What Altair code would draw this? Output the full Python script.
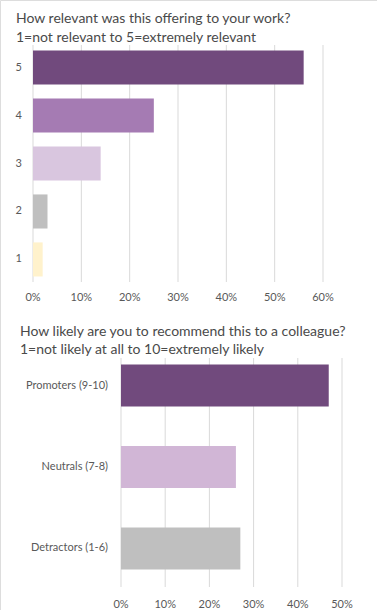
import altair as alt
import pandas as pd

rel_title = ["How relevant was this offering to your work?", "1=not relevant to 5=extremely relevant"]
rel_labels = ["5", "4", "3", "2", "1"]
rel_values = [0.56, 0.25, 0.14, 0.03, 0.02]
rel_colors = ["#714a7d", "#a57bb3", "#d9c6df", "#bfbfbf", "#fff2cc"]
rel_ticks = [0, 0.1, 0.2, 0.3, 0.4, 0.5, 0.6]

nps_title = ["How likely are you to recommend this to a colleague?", "1=not likely at all to 10=extremely likely"]
nps_labels = ["Promoters (9-10)", "Neutrals (7-8)", "Detractors (1-6)"]
nps_values = [0.47, 0.26, 0.27]
nps_colors = ["#714a7d", "#d1b6d6", "#bfbfbf"]
nps_ticks = [0, 0.1, 0.2, 0.3, 0.4, 0.5]

FONT = "Lato"
TXT = "#595959"
TITLE = "#4a4a4a"
GRID = "#d9d9d9"


def panel(labels, values, colors, ticks, dmax, xr, yr, pin, pout, grid_y, tick_y, label_x):
    df = pd.DataFrame({"label": labels, "value": values})
    dt = pd.DataFrame({"t": ticks})
    xs = alt.Scale(domain=[0, dmax], range=xr, nice=False, zero=True)
    ys = alt.Scale(domain=labels, range=yr, paddingInner=pin, paddingOuter=pout)
    grid = alt.Chart(dt).mark_rule(color=GRID, strokeWidth=1).encode(
        x=alt.X("t:Q", scale=xs, axis=None),
        y=alt.value(grid_y[0]), y2=alt.value(grid_y[1]))
    bars = alt.Chart(df).mark_bar().encode(
        x=alt.X("value:Q", scale=xs, axis=None),
        y=alt.Y("label:N", scale=ys, axis=None),
        color=alt.Color("label:N", scale=alt.Scale(domain=labels, range=colors), legend=None))
    xlab = alt.Chart(dt).mark_text(font=FONT, fontSize=11, color=TXT, baseline="middle").encode(
        x=alt.X("t:Q", scale=xs, axis=None), y=alt.value(tick_y),
        text=alt.Text("t:Q", format=".0%"))
    ylab = alt.Chart(df).mark_text(font=FONT, fontSize=11, color=TXT, align="right", baseline="middle").encode(
        y=alt.Y("label:N", scale=ys, axis=None), x=alt.value(label_x), text="label:N")
    return alt.layer(grid, bars, xlab, ylab)


def title_line(text, x, y):
    return alt.Chart(pd.DataFrame({"t": [text]})).mark_text(
        font=FONT, fontSize=14, color=TITLE, align="left", baseline="alphabetic"
    ).encode(text="t:N", x=alt.value(x), y=alt.value(y))


top = panel(rel_labels, rel_values, rel_colors, rel_ticks, 0.6, [33, 323], [45, 282], 0.29, 0.115,
            (45, 282), 298, 22)
bottom = panel(nps_labels, nps_values, nps_colors, nps_ticks, 0.5, [121, 342], [355, 579], 0.485, 0.117,
               (358, 587), 605, 108)

titles = alt.layer(
    title_line(rel_title[0], 16, 23), title_line(rel_title[1], 16, 42),
    title_line(nps_title[0], 20, 336), title_line(nps_title[1], 20, 354),
)

chart = alt.layer(top, bottom, titles).resolve_scale(
    x="independent", y="independent", color="independent"
).properties(
    width=377, height=610, padding=0, autosize=alt.AutoSizeParams(type="none")
).configure_view(stroke=None).configure(background="white")

chart.save("out.html", embed_options={"renderer": "svg", "actions": False})
